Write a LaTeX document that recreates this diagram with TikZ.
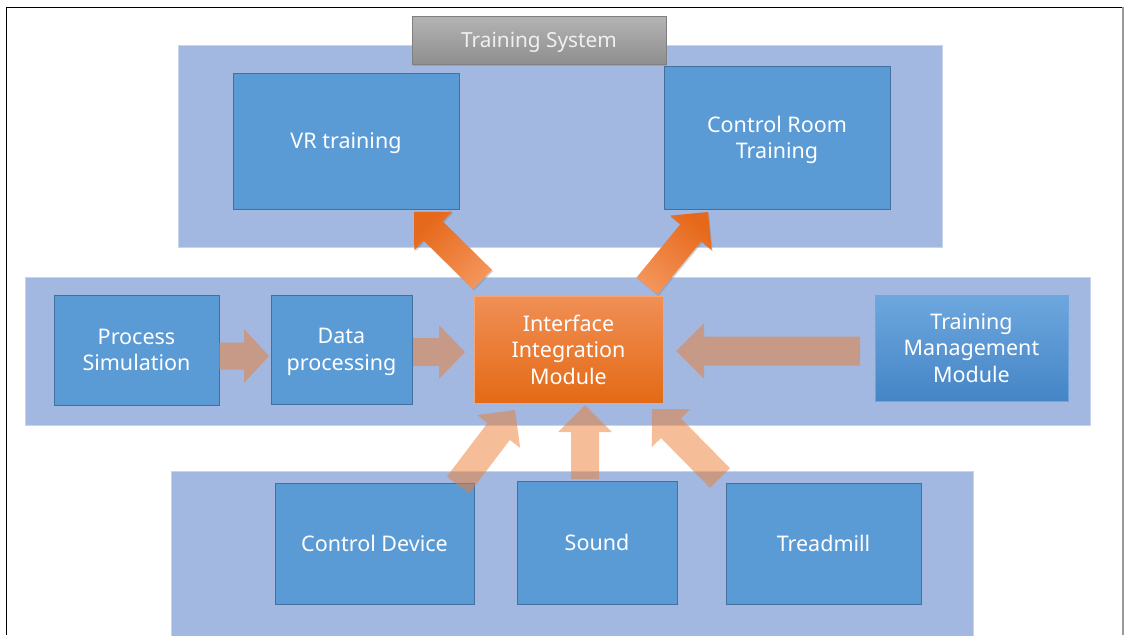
\documentclass[tikz,border=0pt]{standalone}
\usepackage{fontspec}
\setmainfont{Noto Sans}
\usetikzlibrary{calc,shadows}

\definecolor{panelblue}{HTML}{A2B8E0}
\definecolor{boxblue}{HTML}{5B9BD5}
\definecolor{boxline}{HTML}{41719C}
\definecolor{accent}{HTML}{ED7D31}
\definecolor{orangetop}{HTML}{F08F56}
\definecolor{orangemid}{HTML}{F47F2B}
\definecolor{orangebot}{HTML}{E46A15}
\definecolor{arrowtail}{HTML}{F39459}
\definecolor{arrowtip}{HTML}{E6681A}
\definecolor{tmmtop}{HTML}{6DA7DE}
\definecolor{tmmbot}{HTML}{4585C6}
\definecolor{tabtop}{HTML}{B4B4B4}
\definecolor{tabbot}{HTML}{8E8E8E}

\newcommand\boxfont{\fontsize{21.5}{26.5}\selectfont}
\newcommand\tabfont{\fontsize{20.8}{25}\selectfont}

% block arrow: style, tail, tip, shaft half width, head half width, head length
\newcommand\blockarrow[6]{%
  \coordinate (bahead) at ($(#3)!#6!(#2)$);
  \path[#1] ($(#2)!#4!90:(#3)$) -- ($(bahead)!#4!90:(#3)$)
    -- ($(bahead)!#5!90:(#3)$) -- (#3) -- ($(bahead)!#5!-90:(#3)$)
    -- ($(bahead)!#4!-90:(#3)$) -- ($(#2)!#4!-90:(#3)$) -- cycle;
}

\begin{document}
\begin{tikzpicture}[x=1pt,y=-1pt,
  panel/.style={fill=panelblue, draw=panelblue!60!white, line width=0.6pt,
    anchor=north west, inner sep=0pt, outer sep=0pt},
  box/.style={fill=boxblue, draw=boxline, line width=0.8pt, text=white,
    font=\boxfont, align=center, text depth=0pt,
    anchor=north west, inner sep=0pt, outer sep=0pt},
  hubbox/.style={box, draw=orangetop!80!white, top color=orangetop,
    middle color=orangemid, bottom color=orangebot},
  mgmtbox/.style={box, draw=tmmtop, top color=tmmtop, bottom color=tmmbot},
  tabbox/.style={anchor=north west, inner sep=0pt, outer sep=0pt,
    top color=tabtop, bottom color=tabbot, draw=tabbot!90!black, line width=0.4pt,
    text=white!94!black, font=\tabfont, text depth=0pt,
    drop shadow={shadow xshift=1pt, shadow yshift=-2pt, opacity=0.35}},
  softarrow/.style={fill=accent, fill opacity=0.5},
  boldarrow/.style={top color=arrowtip, bottom color=arrowtail,
    drop shadow={shadow xshift=1pt, shadow yshift=-1.5pt, opacity=0.35}},
]
\useasboundingbox (0,0) rectangle (1125,635);

% page frame
\draw[black, line width=1.2pt] (6,7.5) -- (1123,7.5);
\draw[black, line width=1pt] (6,7) -- (6,635);
\draw[black!40, line width=1.2pt] (1123,7) -- (1123,635);

% group panels
\node[panel, minimum width=764pt, minimum height=202pt] (ptop) at (178,45) {};
\node[panel, minimum width=1065pt, minimum height=148pt] (pmid) at (25,277) {};
\node[panel, minimum width=802pt, minimum height=170pt] (pbot) at (171,471) {};

% title tab
\node[tabbox, minimum width=254pt, minimum height=48pt] (tab) at (412,16) {Training System};

% training targets
\node[box, minimum width=226pt, minimum height=136pt] (vr) at (233,73) {VR training};
\node[box, minimum width=226pt, minimum height=143pt] (crt) at (664,66) {Control Room\\Training};

% processing chain
\node[box, minimum width=165pt, minimum height=110pt] (ps) at (54,295) {Process\\Simulation};
\node[box, minimum width=141pt, minimum height=109pt] (dp) at (271,295) {Data\\processing};
\node[hubbox, minimum width=189pt, minimum height=107pt] (iim) at (474,296) {Interface\\Integration\\Module};
\node[mgmtbox, minimum width=193pt, minimum height=106pt] (tmm) at (875,295) {Training\\Management\\Module};

% input devices
\node[box, minimum width=199pt, minimum height=121pt] (cd) at (275,483) {Control Device};
\node[box, minimum width=160pt, minimum height=123pt] (snd) at (517,481) {Sound};
\node[box, minimum width=195pt, minimum height=121pt] (tm) at (726,483) {Treadmill};

% arrow end points
\coordinate (h1a) at ($(ps.east)+(0,6)$);
\coordinate (h1b) at ($(dp.west|-h1a)+(-2,0)$);
\coordinate (h2a) at ($(dp.east)+(1,2.5)$);
\coordinate (h2b) at ($(iim.west|-h2a)+(-9,0)$);
\coordinate (h3a) at ($(tmm.west)+(-15,3)$);
\coordinate (h3b) at ($(iim.east|-h3a)+(13,0)$);
\coordinate (u1a) at ($(iim.north west)+(8.5,-16.5)$);
\coordinate (u1b) at ($(vr.south east)+(-45,3)$);
\coordinate (u2a) at ($(iim.north east)+(-16,-10)$);
\coordinate (u2b) at ($(crt.south west)+(44,3)$);
\coordinate (d1a) at ($(cd.north east)+(-16,2)$);
\coordinate (d1b) at ($(iim.south west)+(41,7)$);
\coordinate (d2a) at ($(snd.north)+(-12,-2)$);
\coordinate (d2b) at ($(iim.south)+(16.5,2)$);
\coordinate (d3a) at ($(tm.north west)+(-6,-5)$);
\coordinate (d3b) at ($(iim.south east)+(-11,6)$);

% data flow arrows
\blockarrow{softarrow}{h1a}{h1b}{13.5pt}{27pt}{25pt}
\blockarrow{softarrow}{h2a}{h2b}{14pt}{27pt}{26pt}
\blockarrow{softarrow}{h3a}{h3b}{14.5pt}{28pt}{28pt}
\blockarrow{softarrow}{d1a}{d1b}{14pt}{27pt}{27pt}
\blockarrow{softarrow}{d2a}{d2b}{14pt}{27pt}{27pt}
\blockarrow{softarrow}{d3a}{d3b}{14pt}{27pt}{27pt}

% output arrows to the training systems
\blockarrow{boldarrow, shading angle=45}{u1a}{u1b}{13.5pt}{27pt}{27pt}
\blockarrow{boldarrow, shading angle=-40}{u2a}{u2b}{13.5pt}{27pt}{27pt}
\end{tikzpicture}
\end{document}
